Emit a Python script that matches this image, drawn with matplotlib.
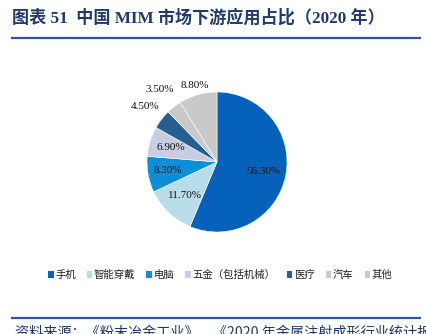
import matplotlib
matplotlib.use("Agg")
import matplotlib.pyplot as plt
from matplotlib.patches import Patch
import numpy as np

categories = ["手机", "智能穿戴", "电脑", "五金（包括机械）", "医疗", "汽车", "其他"]
shares = [56.3, 11.7, 8.3, 6.9, 4.5, 3.5, 8.8]
colors = ["#0561B9", "#B7DEE8", "#0C8ED9", "#C9CDE3", "#255E91", "#C9C9C9", "#C9C9C9"]
label_dist = [0.67, 0.66, 0.71, 0.69, 1.30, 1.32, 1.14]

cjk = ["Noto Sans CJK SC", "DejaVu Sans"]
serif = ["Liberation Serif", "Noto Sans CJK SC"]

fig = plt.figure(figsize=(4.26, 3.34), dpi=100)
fig.patch.set_facecolor("white")

# title
fig.text(0.028, 0.948, "图表 51  中国 MIM 市场下游应用占比（2020 年）",
         family=["Liberation Serif", "Noto Sans CJK SC"], fontsize=12.3,
         fontweight="bold", color="#1F3A6B", va="center", ha="left")
fig.add_artist(plt.Line2D([0.028, 0.985], [0.886, 0.886], color="#2F5597", lw=1.6))

# pie
r = 70 / 100 / 4.26
cx, cy = 217 / 426, 1 - 162 / 334
w, h = 2 * r * 1.0, 2 * r * 4.26 / 3.34
ax = fig.add_axes([cx - w / 2, cy - h / 2, w, h])
wedges, _ = ax.pie(shares, colors=colors, startangle=90, counterclock=False,
                   wedgeprops=dict(edgecolor="white", linewidth=0.4))
ax.set_aspect("equal")
ax.set_xlim(-1, 1)
ax.set_ylim(-1, 1)
for wdg, v, d in zip(wedges, shares, label_dist):
    ang = np.deg2rad((wdg.theta1 + wdg.theta2) / 2)
    ax.text(d * np.cos(ang), d * np.sin(ang), f"{v:.2f}%", ha="center", va="center",
            family=serif, fontsize=8, color="#111111", clip_on=False)

# legend
handles = [Patch(facecolor=c, edgecolor="none") for c in colors]
leg = fig.legend(handles, categories, loc="center", bbox_to_anchor=(0.517, 1 - 275 / 334),
                 ncol=7, frameon=False, prop=dict(family=cjk, size=7.5),
                 handlelength=0.55, handleheight=0.55, handletextpad=0.15,
                 columnspacing=1.05, labelcolor="#222222")

# source
fig.add_artist(plt.Line2D([0.028, 0.985], [1 - 318 / 334, 1 - 318 / 334], color="#2F5597", lw=1.6))
fig.text(0.035, -0.017, "资料来源：《粉末冶金工业》、《2020 年金属注射成形行业统计报",
         family=cjk, fontsize=10.2, style="italic", color="#1F3A6B", va="bottom", ha="left")

fig.savefig("out.png", dpi=100)
